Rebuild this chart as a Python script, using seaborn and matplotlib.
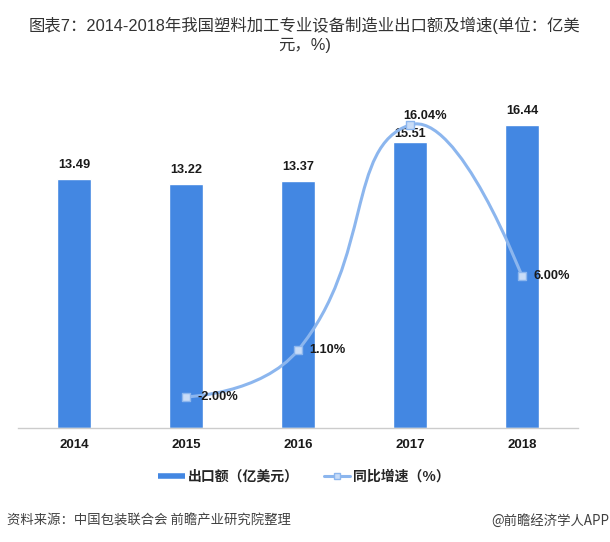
import numpy as np
import pandas as pd
import matplotlib
matplotlib.use('Agg')
import matplotlib.pyplot as plt
from matplotlib.path import Path
from matplotlib.patches import PathPatch
from matplotlib.lines import Line2D
import seaborn as sns

years = ['2014', '2015', '2016', '2017', '2018']
export_value = [13.49, 13.22, 13.37, 15.51, 16.44]
growth_years = ['2015', '2016', '2017', '2018']
growth_rate = [-2.00, 1.10, 16.04, 6.00]

BAR = '#4387e2'
LINE = '#8cb6ee'
MARK = '#c8dcf7'
TXT = '#1a1a1a'

sns.set_theme(style='white')
plt.rcParams['font.family'] = ['Liberation Sans', 'Noto Sans CJK SC', 'DejaVu Sans']

W, H = 610, 542
fig = plt.figure(figsize=(W / 100, H / 100), dpi=100)
ax = fig.add_axes([18 / W, 1 - 428 / H, 560 / W, 369 / H])

df = pd.DataFrame({'year': years, 'value': export_value})
sns.barplot(data=df, x='year', y='value', color=BAR, saturation=1, width=0.31, ax=ax)
ax.set_xlim(-0.5, 4.5)
ax.set_ylim(0, 20)
ax.set_xlabel('')
ax.set_ylabel('')
ax.set_yticks([])
for s in ['left', 'right', 'top']:
    ax.spines[s].set_visible(False)
ax.spines['bottom'].set_color('#cccccc')
ax.spines['bottom'].set_linewidth(1)
ax.tick_params(axis='x', length=0, pad=8)
for lab in ax.get_xticklabels():
    lab.set_fontweight('bold')
    lab.set_fontsize(9.5)
    lab.set_color(TXT)

# bar value labels
bar_off = [14, 14, 14, 8, 14]
for i, v in enumerate(export_value):
    ax.annotate(f'{v:.2f}', (i, v), xytext=(0, bar_off[i]), textcoords='offset pixels',
                ha='center', va='center', fontsize=9.2, fontweight='bold', color=TXT)

# growth line on secondary axis
ax2 = ax.twinx()
ax2.set_ylim(-4.06, 20.41)
ax2.set_yticks([])
for s in ax2.spines.values():
    s.set_visible(False)

xs = np.array([years.index(y) for y in growth_years], dtype=float)
ys = np.array(growth_rate)

# smooth bezier through points (echarts-style), built in pixel space
pts = ax2.transData.transform(np.column_stack([xs, ys]))
smooth = 0.5
n = len(pts)
cp_in = pts.copy()
cp_out = pts.copy()
for i in range(1, n - 1):
    v = (pts[i + 1] - pts[i - 1]) * smooth
    d0 = np.hypot(*(pts[i] - pts[i - 1]))
    d1 = np.hypot(*(pts[i + 1] - pts[i]))
    d0, d1 = d0 / (d0 + d1), d1 / (d0 + d1)
    cp_in[i] = pts[i] - v * d0
    cp_out[i] = pts[i] + v * d1
verts = [pts[0]]
codes = [Path.MOVETO]
for i in range(n - 1):
    verts += [cp_out[i], cp_in[i + 1], pts[i + 1]]
    codes += [Path.CURVE4] * 3
inv = ax2.transData.inverted()
path = Path(inv.transform(np.array(verts)), codes)
ax2.add_patch(PathPatch(path, facecolor='none', edgecolor=LINE, lw=2.2,
                        transform=ax2.transData, zorder=3))

gdf = pd.DataFrame({'x': xs, 'rate': ys})
sns.scatterplot(data=gdf, x='x', y='rate', marker='s', s=28, color=MARK,
                edgecolor=LINE, linewidth=1, zorder=4, ax=ax2, legend=False)
ax2.set_xlabel('')
ax2.set_ylabel('')

lab_off = [(11, 0, 'left'), (11, 0, 'left'), (15, 9, 'center'), (11, 0, 'left')]
for x, y, (dx, dy, ha) in zip(xs, ys, lab_off):
    ax2.annotate(f'{y:.2f}%', (x, y), xytext=(dx, dy), textcoords='offset pixels',
                 ha=ha, va='center', fontsize=9.2, fontweight='bold', color=TXT, zorder=5)

# legend
handles = [
    Line2D([], [], color=BAR, lw=4, solid_capstyle='butt'),
    Line2D([], [], color=LINE, lw=2.2, marker='s', markersize=5,
           markerfacecolor=MARK, markeredgecolor=LINE),
]
fig.legend(handles, ['出口额（亿美元）', '同比增速（%）'], loc='center',
           bbox_to_anchor=(304 / W, 1 - 477 / H), ncol=2, frameon=False,
           handlelength=1.9, handletextpad=0.2, columnspacing=1.8,
           prop={'family': ['Noto Sans CJK SC'], 'weight': 'bold', 'size': 10})

# title and footer
fig.text(0.5, 1 - 25 / H, '图表7：2014-2018年我国塑料加工专业设备制造业出口额及增速(单位：亿美',
         ha='center', va='center', fontsize=11.8, color='#333333')
fig.text(0.5, 1 - 45 / H, '元，%)', ha='center', va='center', fontsize=11.8, color='#333333')
fig.text(7 / W, 1 - 521 / H, '资料来源：中国包装联合会 前瞻产业研究院整理', ha='left', va='center',
         fontsize=9.6, color='#404040', family=['Noto Sans CJK SC'])
fig.text(609 / W, 1 - 521 / H, '@前瞻经济学人APP', ha='right', va='center',
         fontsize=9.6, color='#404040', family=['Noto Sans CJK SC'])

fig.savefig('out.png', dpi=100)
